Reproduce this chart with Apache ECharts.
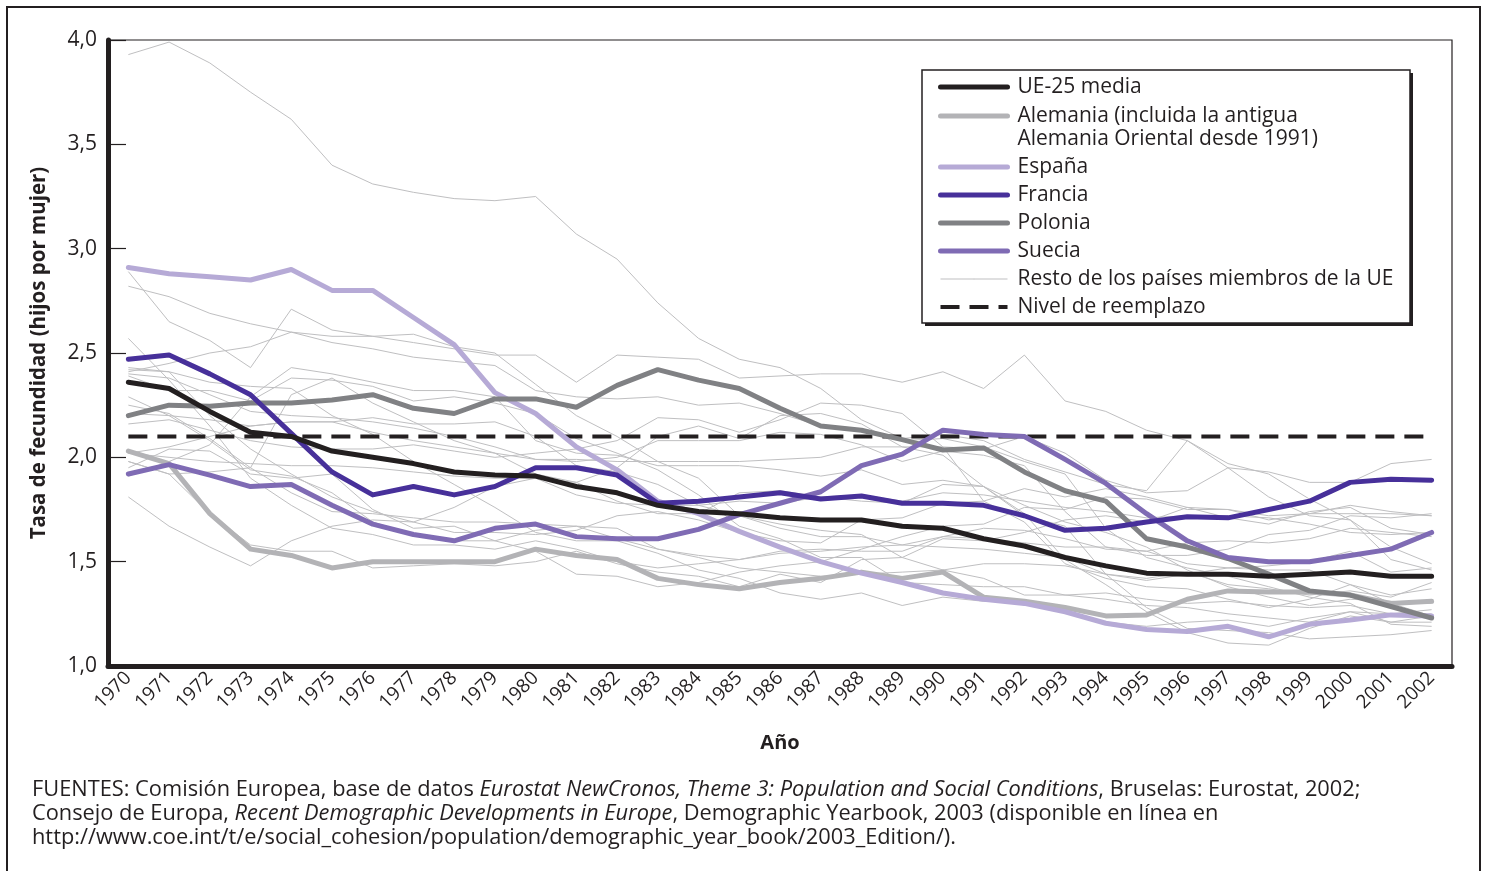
<!DOCTYPE html>
<html>
<head>
<meta charset="utf-8">
<script src="https://cdn.jsdelivr.net/npm/echarts@6/dist/echarts.min.js"></script>
<style>
  html, body { margin: 0; padding: 0; background: #fff; }
  #chart { width: 1485px; height: 871px; }
</style>
</head>
<body>
<div id="chart"></div>
<script>
const anios = ['1970','1971','1972','1973','1974','1975','1976','1977','1978','1979','1980',
  '1981','1982','1983','1984','1985','1986','1987','1988','1989','1990',
  '1991','1992','1993','1994','1995','1996','1997','1998','1999','2000','2001','2002']

const ue25 = [2.36,2.33,2.22,2.12,2.10,2.03,2.00,1.97,1.93,1.915,1.91,1.86,1.83,1.77,1.74,1.73,1.71,1.70,1.70,1.67,1.66,1.61,1.575,1.52,1.48,1.445,1.44,1.44,1.43,1.44,1.45,1.43,1.43]
const alemania = [2.03,1.97,1.73,1.56,1.53,1.47,1.50,1.50,1.50,1.50,1.56,1.53,1.51,1.42,1.39,1.37,1.40,1.42,1.45,1.42,1.45,1.33,1.31,1.28,1.24,1.245,1.32,1.36,1.355,1.355,1.34,1.30,1.31]
const espana = [2.91,2.88,2.865,2.85,2.90,2.80,2.80,2.67,2.54,2.31,2.21,2.05,1.94,1.79,1.73,1.645,1.57,1.50,1.445,1.40,1.35,1.32,1.30,1.26,1.205,1.175,1.165,1.19,1.14,1.20,1.22,1.245,1.24]
const francia = [2.47,2.49,2.40,2.30,2.115,1.93,1.82,1.86,1.82,1.86,1.95,1.95,1.915,1.78,1.79,1.81,1.83,1.80,1.815,1.78,1.78,1.77,1.72,1.65,1.66,1.69,1.715,1.71,1.75,1.79,1.88,1.895,1.89]
const polonia = [2.20,2.25,2.245,2.26,2.26,2.275,2.30,2.235,2.21,2.28,2.28,2.24,2.345,2.42,2.37,2.33,2.235,2.15,2.13,2.085,2.035,2.045,1.93,1.84,1.79,1.61,1.57,1.515,1.44,1.36,1.34,1.285,1.23]
const suecia = [1.92,1.965,1.915,1.86,1.87,1.77,1.68,1.63,1.60,1.66,1.68,1.62,1.61,1.61,1.655,1.725,1.78,1.835,1.96,2.015,2.13,2.11,2.10,1.99,1.875,1.73,1.60,1.52,1.50,1.50,1.53,1.56,1.64]
// resto de los paises miembros (lineas finas)
const resto = [
  [3.93,3.99,3.89,3.75,3.62,3.40,3.31,3.27,3.24,3.23,3.25,3.07,2.95,2.74,2.57,2.47,2.43,2.33,2.18,2.09,2.11,2.08,1.99,1.93,1.87,1.84,2.08,1.95,1.93,1.88,1.88,1.97,1.99],
  [2.89,2.65,2.56,2.43,2.71,2.61,2.58,2.55,2.52,2.49,2.49,2.36,2.49,2.48,2.47,2.38,2.39,2.40,2.40,2.36,2.41,2.33,2.49,2.27,2.22,2.13,2.08,1.97,1.92,1.80,1.70,1.57,1.49],
  [2.82,2.77,2.69,2.64,2.60,2.58,2.58,2.59,2.53,2.50,2.35,2.20,2.10,1.98,1.90,1.72,1.66,1.62,1.62,1.58,1.57,1.56,1.54,1.52,1.44,1.41,1.44,1.47,1.48,1.50,1.55,1.45,1.47],
  [2.57,2.37,2.15,1.90,1.77,1.66,1.63,1.58,1.58,1.56,1.60,1.56,1.50,1.47,1.49,1.51,1.55,1.56,1.55,1.55,1.62,1.61,1.59,1.57,1.57,1.53,1.53,1.56,1.63,1.65,1.72,1.71,1.73],
  [2.41,2.45,2.50,2.53,2.60,2.55,2.52,2.48,2.46,2.44,2.32,2.29,2.28,2.29,2.25,2.26,2.21,2.15,2.13,2.08,2.09,2.05,1.98,1.92,1.66,1.52,1.47,1.43,1.38,1.33,1.30,1.20,1.19],
  [2.40,2.38,2.30,2.22,2.20,2.19,2.17,2.14,2.10,2.05,1.99,1.98,2.00,2.08,2.08,2.08,2.12,2.11,2.06,1.98,2.03,2.01,1.96,1.74,1.57,1.55,1.49,1.47,1.46,1.46,1.39,1.30,1.24],
  [2.42,2.41,2.36,2.34,2.33,2.20,2.11,1.98,1.87,1.76,1.64,1.60,1.60,1.54,1.46,1.42,1.35,1.32,1.35,1.29,1.33,1.31,1.31,1.26,1.21,1.19,1.21,1.22,1.19,1.23,1.26,1.25,1.27],
  [2.43,2.41,2.20,2.04,1.92,1.81,1.74,1.69,1.76,1.86,1.90,1.82,1.78,1.77,1.77,1.79,1.78,1.81,1.82,1.79,1.83,1.82,1.79,1.76,1.74,1.71,1.72,1.72,1.71,1.68,1.64,1.63,1.64],
  [2.39,2.32,2.32,2.27,2.38,2.37,2.34,2.27,2.29,2.26,2.21,2.09,2.02,1.94,1.82,1.67,1.61,1.52,1.52,1.40,1.39,1.38,1.38,1.34,1.35,1.32,1.30,1.31,1.29,1.28,1.29,1.25,1.25],
  [2.29,2.20,2.08,1.94,1.91,1.83,1.69,1.63,1.60,1.60,1.65,1.67,1.66,1.56,1.52,1.47,1.45,1.43,1.44,1.45,1.46,1.49,1.49,1.48,1.44,1.42,1.45,1.39,1.37,1.34,1.36,1.33,1.40],
  [2.25,2.21,2.09,1.95,1.83,1.74,1.73,1.71,1.69,1.69,1.68,1.67,1.61,1.56,1.53,1.51,1.54,1.55,1.57,1.58,1.62,1.66,1.65,1.61,1.56,1.55,1.59,1.60,1.59,1.61,1.66,1.64,1.62],
  [2.21,2.20,2.18,2.15,2.17,2.17,2.19,2.16,2.16,2.17,2.10,1.96,1.93,1.87,1.77,1.72,1.68,1.65,1.63,1.52,1.46,1.42,1.34,1.34,1.32,1.29,1.28,1.25,1.23,1.21,1.26,1.21,1.21],
  [2.16,2.18,2.13,2.08,2.05,2.04,2.04,2.06,2.03,2.00,2.02,2.04,2.08,2.19,2.18,2.12,2.18,2.26,2.25,2.21,2.05,1.79,1.69,1.49,1.42,1.38,1.37,1.32,1.28,1.32,1.39,1.34,1.37],
  [2.02,2.05,2.10,2.15,2.17,2.17,2.12,2.08,2.05,2.02,1.99,1.99,1.98,1.98,1.98,1.98,1.99,2.00,2.05,2.05,2.05,2.04,2.10,2.02,1.89,1.83,1.84,1.95,1.81,1.72,1.70,1.51,1.46],
  [2.02,2.00,1.98,1.97,1.96,1.96,1.95,1.93,1.91,1.90,1.90,1.88,1.95,2.10,2.15,2.09,2.20,2.21,2.16,2.05,2.01,1.86,1.73,1.51,1.39,1.26,1.16,1.11,1.10,1.18,1.24,1.21,1.24],
  [1.98,1.92,1.93,1.95,2.30,2.38,2.26,2.17,2.08,2.02,1.92,1.88,1.79,1.73,1.73,1.83,1.84,1.81,1.79,1.78,1.87,1.86,1.77,1.69,1.64,1.57,1.46,1.38,1.33,1.29,1.32,1.31,1.30],
  [1.98,1.92,1.73,1.58,1.55,1.55,1.47,1.48,1.49,1.48,1.50,1.55,1.49,1.45,1.43,1.38,1.44,1.40,1.51,1.52,1.61,1.60,1.64,1.70,1.72,1.69,1.76,1.71,1.68,1.74,1.76,1.66,1.63],
  [1.95,2.04,2.03,1.92,1.90,1.92,1.75,1.66,1.67,1.60,1.55,1.44,1.43,1.38,1.40,1.45,1.48,1.50,1.56,1.62,1.67,1.68,1.76,1.75,1.81,1.80,1.75,1.75,1.72,1.73,1.77,1.74,1.72],
  [1.91,1.98,2.06,2.29,2.43,2.40,2.36,2.32,2.32,2.29,2.08,2.02,2.01,1.96,1.96,1.96,1.94,1.91,1.94,1.87,1.89,1.86,1.72,1.67,1.44,1.28,1.18,1.17,1.16,1.13,1.14,1.15,1.17],
  [1.81,1.67,1.57,1.48,1.60,1.67,1.70,1.69,1.64,1.64,1.63,1.65,1.72,1.74,1.70,1.64,1.60,1.59,1.70,1.71,1.78,1.79,1.85,1.81,1.85,1.81,1.76,1.75,1.70,1.73,1.73,1.73,1.72]
]
const nivelReemplazo = 2.1

const FONT = '"Open Sans", "Noto Sans", sans-serif'
const INK = '#231f20'
const NOMBRE_ALEMANIA = 'Alemania (incluida la antigua Alemania Oriental desde 1991)'
const NOMBRE_RESTO = 'Resto de los países miembros de la UE'

const chart = echarts.init(document.getElementById('chart'))

function gruesa(name, data, color) {
  return {
    name: name, type: 'line', data: data, symbol: 'none', z: 5,
    lineStyle: { color: color, width: 5, cap: 'round', join: 'round' },
    itemStyle: { color: color }
  }
}

const series = []
resto.forEach(function (d) {
  series.push({
    name: NOMBRE_RESTO, type: 'line', data: d, symbol: 'none', z: 2,
    lineStyle: { color: '#bfbfc1', width: 1 },
    itemStyle: { color: '#bfbfc1' }
  })
})
series.push({
  name: 'Nivel de reemplazo', type: 'line', symbol: 'none', z: 3,
  data: [[anios[0], nivelReemplazo], [anios[anios.length - 1], nivelReemplazo]],
  lineStyle: { color: INK, width: 4, type: [19, 10] },
  itemStyle: { color: INK }
})
series.push(gruesa(NOMBRE_ALEMANIA, alemania, '#b3b3b6'))
series.push(gruesa('España', espana, '#b6aad6'))
series.push(gruesa('Polonia', polonia, '#808184'))
series.push(gruesa('Suecia', suecia, '#7f6bb4'))
series.push(gruesa('Francia', francia, '#47309a'))
series.push(gruesa('UE-25 media', ue25, INK))

// itemHeight tiny so the circle drawn in line legend icons disappears
const leyendaBase = {
  orient: 'vertical', left: 938, itemWidth: 67, itemHeight: 1, itemGap: 5,
  padding: 0, selectedMode: false, z: 10,
  lineStyle: { width: 'inherit' },
  textStyle: { fontFamily: FONT, fontSize: 21, color: INK, lineHeight: 23, padding: [0, 0, 0, 5] }
}

const option = {
  animation: false,
  backgroundColor: '#fff',
  grid: {
    left: 108, right: 33, top: 40, bottom: 205,
    show: true, borderColor: INK, borderWidth: 1.2,
    outerBoundsMode: 'none'
  },
  xAxis: {
    type: 'category', data: anios, boundaryGap: true,
    name: 'Año', nameLocation: 'middle', nameGap: 67,
    nameTextStyle: { fontFamily: FONT, fontSize: 20, fontWeight: 'bold', color: INK },
    axisLine: { lineStyle: { color: INK, width: 5 } },
    axisTick: { inside: true, length: 18, lineStyle: { color: INK, width: 1.2 } },
    axisLabel: { rotate: 45, margin: 9, fontFamily: FONT, fontSize: 19, color: INK, interval: 0 },
    splitLine: { show: false }
  },
  yAxis: {
    type: 'value', min: 1, max: 4, interval: 0.5,
    name: 'Tasa de fecundidad (hijos por mujer)', nameLocation: 'middle', nameGap: 58,
    nameTextStyle: { fontFamily: FONT, fontSize: 20.5, fontWeight: 'bold', color: INK },
    axisLine: { show: true, lineStyle: { color: INK, width: 5 } },
    axisTick: { show: true, inside: true, length: 18, lineStyle: { color: INK, width: 1.2 } },
    axisLabel: {
      margin: 11, fontFamily: FONT, fontSize: 21, color: INK,
      formatter: function (v) { return v.toFixed(1).replace('.', ',') }
    },
    splitLine: { show: false }
  },
  legend: [
    Object.assign({}, leyendaBase, { top: 75.5, data: ['UE-25 media'] }),
    Object.assign({}, leyendaBase, {
      top: 81.5, data: [NOMBRE_ALEMANIA],
      // leading blank line keeps the icon level with the first line of text
      formatter: function () { return ' \nAlemania (incluida la antigua\nAlemania Oriental desde 1991)' }
    }),
    Object.assign({}, leyendaBase, {
      top: 155.5,
      data: ['España', 'Francia', 'Polonia', 'Suecia', NOMBRE_RESTO, 'Nivel de reemplazo']
    })
  ],
  graphic: [
    {
      type: 'rect', z: 0, silent: true,
      shape: { x: 7, y: 7, width: 1473, height: 920 },
      style: { fill: 'none', stroke: INK, lineWidth: 2 }
    },
    {
      type: 'rect', z: 8, silent: true,
      shape: { x: 925, y: 73, width: 488, height: 253 },
      style: { fill: INK }
    },
    {
      type: 'rect', z: 9, silent: true,
      shape: { x: 922, y: 70, width: 488, height: 253 },
      style: { fill: '#fff', stroke: INK, lineWidth: 1.5 }
    },
    {
      type: 'text', left: 32, top: 778, silent: true,
      style: {
        text: 'FUENTES: Comisión Europea, base de datos {i|Eurostat NewCronos, Theme 3: Population and Social Conditions}, Bruselas: Eurostat, 2002;\n' +
          'Consejo de Europa, {i|Recent Demographic Developments in Europe}, Demographic Yearbook, 2003 (disponible en línea en\n' +
          'http://www.coe.int/t/e/social_cohesion/population/demographic_year_book/2003_Edition/).',
        fontFamily: FONT, fontSize: 21.8, lineHeight: 24, fill: INK,
        rich: { i: { fontFamily: FONT, fontSize: 21.8, lineHeight: 24, fontStyle: 'italic', fill: INK } }
      }
    }
  ],
  series: series
}

chart.setOption(option)
</script>
</body>
</html>
